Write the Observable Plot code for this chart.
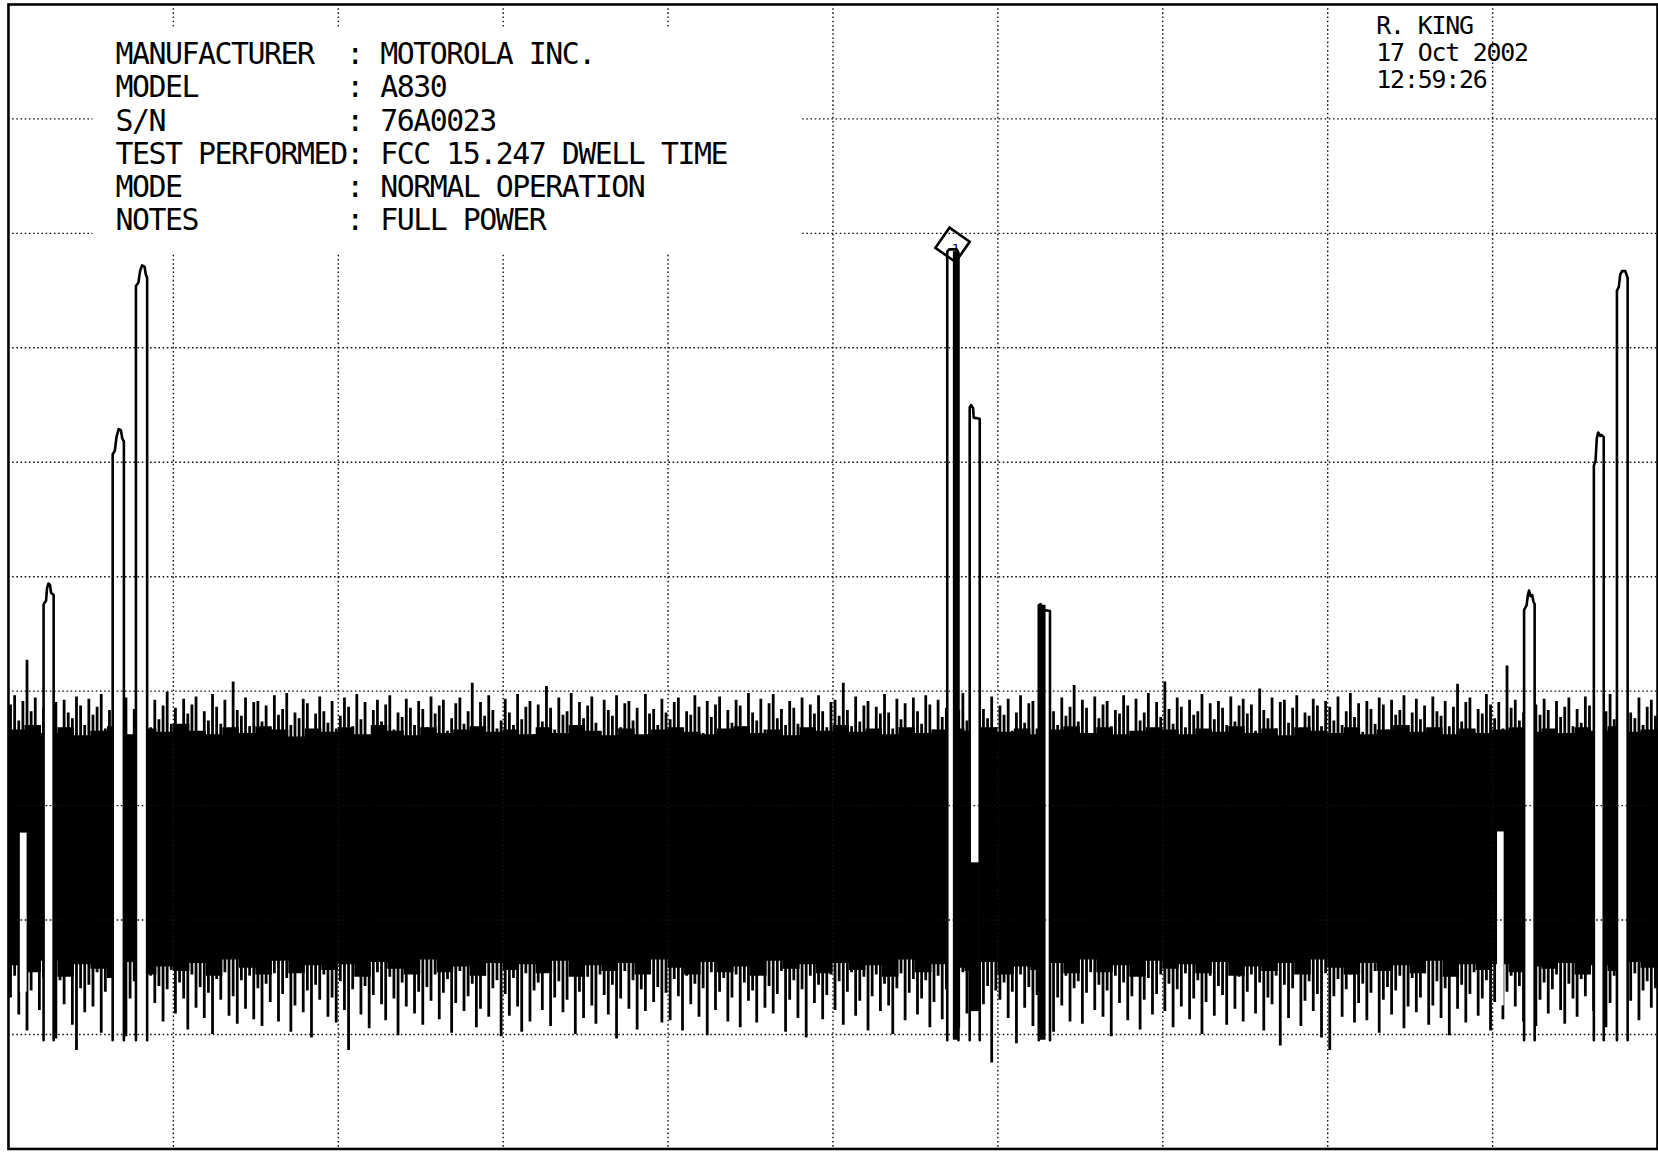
<!DOCTYPE html>
<html><head><meta charset="utf-8">
<script src="https://cdn.jsdelivr.net/npm/d3@7"></script>
<script src="https://cdn.jsdelivr.net/npm/@observablehq/plot@0.6"></script>
<style>
html,body{margin:0;padding:0;background:#fff;overflow:hidden}
#wrap{width:1658px;height:1158px;overflow:hidden;position:relative;background:#fff}
</style></head><body><div id="wrap"></div>
<script>
// ---------- DATA (time in ms, level in dBm, ref +20 dBm, 10 dB/div) ----------
const timeTicks = [10, 20, 30, 40, 50, 60, 70, 80, 90];
const levelTicks = [10, 0, -10, -20, -30, -40, -50, -60, -70];

const noiseStep = 0.25; // ms per noise bin (peak excursions)
const noiseHi = [
 -41.2,-40.4,-42.6,-40.9,-37.3,-41.8,-40.6,-43.1,-41.5,-40.2,-42.3,-41.0,-43.6,-40.8,-41.9,-42.4,-40.5,-41.3,-43.0,-40.7,
 -42.1,-41.4,-40.3,-43.3,-41.7,-40.9,-42.8,-41.1,-40.6,-43.9,-41.6,-42.2,-40.4,-41.9,-43.2,-40.8,-42.5,-41.3,-40.1,-42.9,
 -41.5,-43.4,-40.7,-42.0,-41.2,-40.5,-43.7,-41.8,-42.6,-40.3,-41.4,-42.9,-40.8,-43.5,-39.2,-41.7,-42.2,-40.6,-43.1,-41.0,
 -40.9,-42.7,-41.3,-43.8,-40.4,-42.1,-41.6,-40.2,-43.0,-41.9,-42.4,-40.7,-41.1,-43.6,-42.0,-40.5,-41.8,-42.8,-40.9,-43.3,
 -42.2,-40.6,-41.4,-43.1,-40.3,-42.5,-41.0,-43.9,-41.7,-40.8,-42.7,-41.2,-40.4,-43.4,-41.9,-42.3,-40.7,-41.5,-43.0,-40.9,
 -41.6,-43.2,-40.5,-42.0,-41.3,-40.8,-43.5,-42.4,-41.1,-40.6,-42.9,-41.8,-39.3,-43.7,-41.0,-42.2,-40.4,-41.7,-43.3,-42.6,
 -40.7,-41.9,-43.0,-40.3,-42.5,-41.4,-40.9,-43.8,-41.2,-42.7,-39.6,-41.5,-43.4,-40.6,-42.1,-41.8,-40.2,-43.1,-41.0,-42.4,
 -41.3,-40.5,-42.8,-43.6,-40.8,-41.7,-42.2,-40.4,-43.2,-41.1,-40.9,-42.6,-41.5,-43.9,-40.3,-42.0,-41.6,-43.0,-40.7,-41.9,
 -42.5,-41.0,-40.6,-43.3,-41.8,-42.1,-40.4,-41.4,-43.7,-40.9,-42.3,-41.2,-40.5,-43.5,-41.7,-42.8,-40.8,-41.3,-43.1,-40.2,
 -41.9,-42.6,-40.7,-43.4,-41.1,-40.3,-42.4,-41.6,-43.0,-40.9,-41.5,-42.9,-40.6,-43.8,-41.2,-42.0,-40.4,-41.8,-43.2,-41.0,
 -40.8,-42.2,-39.3,-41.7,-43.1,-40.5,-42.7,-41.3,-40.9,-43.6,-41.4,-42.0,-40.3,-41.9,-43.3,-40.7,-42.5,-41.1,-43.9,-40.6,
 -41.8,-42.9,-40.4,-41.2,-43.4,-40.8,-42.3,-41.5,-40.6,-43.0,-41.7,-40.2,-42.6,-41.0,-43.7,-40.9,-41.6,-42.4,-40.5,-43.2,
 -41.3,-42.1,-40.7,-43.5,-41.9,-40.4,-42.8,-41.1,-40.9,-43.3,-41.6,-42.5,-40.3,-41.8,-43.0,-40.6,-42.2,-41.4,-39.5,-42.7,
 -40.8,-41.5,-43.8,-40.5,-42.4,-41.2,-40.9,-43.1,-41.7,-42.0,-40.4,-41.3,-43.6,-40.7,-42.6,-41.9,-40.2,-43.4,-41.0,-42.3,
 -39.2,-41.6,-42.9,-40.6,-41.4,-43.2,-40.8,-42.1,-41.8,-40.3,-43.7,-41.1,-42.5,-40.9,-41.5,-43.0,-40.5,-42.7,-41.3,-40.7,
 -42.0,-41.2,-43.5,-39.8,-41.7,-42.4,-40.6,-43.3,-41.0,-40.8,-42.8,-41.5,-40.4,-43.9,-41.9,-42.2,-40.7,-41.3,-43.1,-40.9,
 -41.4,-42.6,-40.5,-43.0,-41.8,-40.2,-42.3,-41.1,-43.6,-40.9,-41.6,-42.9,-40.6,-41.2,-43.4,-40.8,-42.1,-41.7,-40.4,-43.2,
 -41.9,-40.7,-42.5,-41.3,-43.7,-40.5,-41.8,-42.2,-40.9,-43.1,-41.4,-39.4,-42.7,-41.0,-40.6,-43.5,-41.6,-42.0,-40.3,-41.2,
 -42.4,-41.0,-43.3,-37.8,-41.5,-40.8,-42.6,-41.9,-40.4,-43.0,-41.2,-42.1,-40.7,-41.7,-43.4,-40.9,-42.3,-41.4,-40.6,-43.1,
 -41.6,-42.8,-40.5,-41.3,-43.6,-40.9,-42.0,-41.8,-40.3,-42.5,-41.1,-43.2,-40.7,-41.9,-42.4,-40.6,-43.0,-41.4,-40.8,-42.2
];
const noiseLo = [
 -66.8,-64.9,-68.3,-65.6,-69.7,-66.2,-64.5,-67.9,-65.1,-68.8,-66.5,-70.4,-65.3,-67.4,-64.8,-69.2,-71.4,-66.0,-68.1,-65.7,
 -67.6,-64.6,-69.9,-66.3,-65.0,-68.5,-67.1,-64.7,-70.2,-66.9,-65.4,-68.0,-66.6,-69.4,-64.9,-67.3,-65.8,-68.9,-66.1,-64.4,
 -68.2,-65.5,-66.9,-69.6,-64.8,-67.7,-65.9,-68.6,-66.4,-70.0,-65.2,-67.0,-64.6,-68.4,-66.7,-69.1,-65.3,-67.8,-64.9,-68.7,
 -66.0,-69.3,-65.6,-67.2,-64.7,-68.9,-66.5,-65.1,-69.8,-67.5,-64.5,-68.1,-66.2,-70.3,-65.7,-67.0,-64.8,-68.5,-66.8,-69.0,
 -65.4,-67.9,-71.4,-66.1,-64.9,-68.3,-65.8,-69.5,-66.6,-64.6,-67.4,-68.8,-65.0,-66.9,-70.1,-65.5,-67.6,-64.7,-68.2,-66.3,
 -69.2,-65.9,-67.1,-64.8,-68.7,-66.4,-65.2,-69.9,-67.3,-64.5,-68.0,-66.7,-65.6,-69.4,-67.8,-64.9,-68.5,-66.0,-65.3,-70.2,
 -66.5,-68.4,-65.1,-67.6,-69.8,-64.7,-68.9,-66.2,-65.5,-67.9,-64.6,-69.3,-66.8,-65.4,-68.1,-67.0,-64.9,-70.0,-66.3,-68.6,
 -65.0,-67.5,-69.1,-64.8,-66.6,-68.3,-65.7,-70.4,-66.9,-64.5,-67.8,-65.3,-69.6,-66.1,-68.0,-64.7,-67.2,-65.9,-69.0,-66.4,
 -68.8,-65.2,-66.7,-69.7,-64.9,-67.4,-65.6,-68.5,-66.0,-70.1,-64.6,-67.9,-66.3,-65.1,-68.9,-66.8,-64.8,-69.4,-65.5,-67.1,
 -66.2,-69.0,-64.7,-67.7,-65.8,-68.2,-66.5,-64.5,-69.8,-67.0,-65.3,-68.6,-66.1,-70.3,-64.9,-67.3,-65.7,-68.7,-66.6,-64.8,
 -67.9,-65.4,-69.2,-66.3,-64.6,-68.4,-67.1,-65.0,-69.7,-66.7,-64.8,-68.0,-65.6,-67.5,-70.0,-66.0,-64.7,-68.8,-66.4,-65.2,
 -68.3,-66.9,-65.3,-69.4,-67.2,-64.9,-68.7,-66.1,-65.7,-67.8,-69.5,-64.6,-68.2,-66.5,-65.0,-70.1,-67.4,-65.8,-72.5,-66.2,
 -67.0,-65.5,-68.6,-66.3,-70.8,-64.8,-67.7,-65.9,-69.3,-66.6,-64.7,-68.1,-65.2,-69.8,-66.8,-67.5,-64.9,-68.9,-66.0,-65.4,
 -69.1,-66.4,-64.6,-67.9,-65.7,-68.5,-66.2,-70.2,-64.9,-67.3,-65.5,-68.8,-66.7,-64.5,-69.6,-67.0,-65.1,-68.3,-66.5,-64.8,
 -68.0,-65.6,-69.4,-66.1,-67.6,-64.7,-68.7,-66.9,-65.3,-70.0,-67.2,-64.9,-68.4,-65.8,-66.6,-69.2,-64.6,-67.8,-65.0,-68.9,
 -66.3,-64.8,-68.2,-65.5,-69.7,-66.8,-67.4,-64.9,-71.0,-65.7,-68.6,-66.0,-64.6,-69.3,-67.1,-65.4,-68.0,-66.5,-70.3,-64.7,
 -71.4,-66.7,-65.2,-68.5,-66.1,-64.8,-69.0,-67.3,-65.6,-68.8,-66.4,-64.5,-69.9,-67.0,-65.9,-68.3,-66.2,-64.9,-69.5,-67.6,
 -65.1,-68.1,-66.8,-64.7,-69.2,-67.5,-65.4,-68.6,-66.0,-70.1,-64.8,-67.8,-65.7,-69.0,-66.5,-64.6,-68.4,-66.9,-65.3,-69.7,
 -67.2,-65.0,-68.7,-66.3,-64.9,-67.6,-65.8,-68.9,-66.6,-64.7,-69.3,-67.0,-65.5,-68.2,-66.1,-64.8,-67.9,-69.1,-65.6,-66.9,
 -68.5,-65.2,-66.7,-64.6,-68.0,-66.4,-65.1,-69.4,-67.3,-64.9,-66.8,-68.3,-65.7,-67.1,-64.7,-68.8,-66.2,-65.4,-67.7,-66.0
];
const coreStep = 1; // ms per dense-band bin
const coreTop = [
 -43.4,-43.0,-43.7,-43.2,-43.9,-43.5,-43.1,-43.8,-43.3,-43.6,
 -42.9,-43.5,-43.8,-43.2,-43.7,-43.1,-43.4,-44.0,-43.3,-43.6,
 -43.2,-43.8,-43.0,-43.5,-43.9,-43.2,-43.7,-43.4,-43.1,-43.6,
 -43.4,-43.8,-43.2,-43.7,-43.0,-43.5,-43.9,-43.3,-43.8,-43.4,
 -43.2,-43.6,-43.8,-43.3,-43.1,-43.7,-43.4,-43.9,-43.2,-43.5,
 -43.0,-43.6,-43.3,-43.8,-43.2,-43.7,-43.4,-43.3,-43.5,-43.2,
 -43.6,-43.3,-43.8,-43.4,-43.1,-43.7,-43.2,-43.8,-43.5,-43.2,
 -43.4,-43.8,-43.3,-43.6,-43.1,-43.7,-43.3,-43.9,-43.2,-43.5,
 -43.7,-43.2,-43.8,-43.4,-43.0,-43.6,-43.2,-43.8,-43.3,-43.7,
 -43.4,-43.2,-43.6,-43.3,-43.7,-43.2,-43.5,-43.1,-43.6,-43.4
];
const coreBottom = [
 -64.0,-64.6,-63.6,-65.0,-63.9,-64.3,-65.1,-63.7,-64.8,-64.1,
 -64.5,-63.8,-64.9,-63.5,-64.2,-64.8,-63.6,-64.7,-64.0,-64.4,
 -63.9,-65.0,-63.7,-64.3,-64.8,-63.5,-64.6,-64.1,-64.9,-63.8,
 -64.4,-63.9,-64.7,-63.6,-65.0,-64.0,-64.5,-63.8,-64.8,-63.5,
 -64.2,-64.8,-63.7,-64.6,-64.1,-64.9,-63.6,-64.3,-63.9,-64.7,
 -63.8,-64.4,-64.0,-65.0,-63.5,-64.6,-63.9,-64.2,-64.5,-63.7,
 -64.8,-64.1,-64.4,-63.8,-64.7,-63.5,-64.6,-64.0,-65.0,-63.6,
 -64.3,-63.9,-64.7,-63.7,-64.9,-64.1,-64.5,-63.8,-64.8,-63.5,
 -64.2,-64.8,-63.8,-64.5,-64.0,-64.7,-63.6,-65.0,-63.9,-64.4,
 -63.9,-64.6,-64.1,-64.3,-63.8,-64.8,-64.0,-64.5,-63.7,-64.2
];

// hop pulses: [time ms, level dBm] outline vertices
const pulseBase = -70.5;
const pulseA = [[2.13,-70.5],[2.13,-32.4],[2.28,-32.1],[2.34,-31.0],[2.42,-30.6],[2.52,-30.7],[2.58,-31.4],[2.74,-31.6],[2.74,-70.5]];
const pulseB = [[6.32,-70.5],[6.32,-19.3],[6.45,-19.0],[6.55,-17.8],[6.68,-17.1],[6.82,-17.2],[6.90,-17.9],[7.00,-18.2],[7.00,-70.5]];
const pulseC = [[7.73,-70.5],[7.73,-4.6],[7.88,-4.3],[7.98,-3.3],[8.10,-2.8],[8.25,-2.9],[8.33,-3.6],[8.41,-3.9],[8.41,-70.5]];
const pulseD = [[56.93,-70.5],[56.93,-1.6],[57.05,-1.4],[57.50,-1.4],[57.61,-1.7],[57.61,-70.5]];
const pulseE = [[58.29,-70.5],[58.29,-15.2],[58.38,-15.0],[58.50,-15.3],[58.53,-16.1],[58.90,-16.2],[58.90,-70.5]];
const pulseF = [[62.48,-70.5],[62.48,-32.5],[62.58,-32.4],[62.70,-32.6],[62.76,-32.9],[63.16,-33.0],[63.16,-70.5]];
const pulseG = [[91.91,-70.5],[91.91,-32.9],[92.06,-32.5],[92.14,-31.6],[92.21,-31.2],[92.30,-31.7],[92.40,-31.6],[92.48,-32.2],[92.55,-32.4],[92.55,-70.5]];
const pulseH = [[96.14,-70.5],[96.14,-20.3],[96.24,-19.9],[96.32,-17.9],[96.40,-17.4],[96.52,-17.7],[96.60,-17.6],[96.74,-17.8],[96.74,-70.5]];
const pulseI = [[97.54,-70.5],[97.54,-5.0],[97.65,-4.7],[97.74,-3.6],[97.85,-3.3],[98.05,-3.3],[98.12,-3.6],[98.19,-3.9],[98.19,-70.5]];

// dense (over-written) trace segments inside pulses
const denseStart = [57.30, 62.48, 58.31];
const denseEnd   = [57.61, 62.92, 58.88];
const denseHi    = [-1.6, -32.5, -55.0];
const denseLo    = [-70.5, -70.5, -68.0];
// short white gaps in the noise
const gapStart = [0.72, 90.30];
const gapEnd   = [1.13, 90.70];
const gapHi    = [-52.4, -52.3];
const gapLo    = [-66.3, -67.5];

// marker 1
const markerT = 57.25, markerDb = -1.0;

// annotation text
const headerLabels = ["MANUFACTURER", "MODEL", "S/N", "TEST PERFORMED", "MODE", "NOTES"];
const headerValues = ["MOTOROLA INC.", "A830", "76A0023", "FCC 15.247 DWELL TIME", "NORMAL OPERATION", "FULL POWER"];
const stampLines = ["R. KING", "17 Oct 2002", "12:59:26"];

// ---------- TABLES ----------
const peaks = noiseHi.map((v, i) => ({t: i * noiseStep + noiseStep / 2, hi: v, lo: noiseLo[i]}));
const core = coreTop.map((v, i) => ({t: i * coreStep, hi: v, lo: coreBottom[i]}));
core.push({t: coreTop.length * coreStep, hi: coreTop[coreTop.length - 1], lo: coreBottom[coreBottom.length - 1]});
const pulseList = {A: pulseA, B: pulseB, C: pulseC, D: pulseD, E: pulseE, F: pulseF, G: pulseG, H: pulseH, I: pulseI};
const pulseRows = Object.entries(pulseList).flatMap(([name, pts]) => pts.map(([t, db]) => ({name, t, db})));
const dense = denseStart.map((s, i) => ({x1: s, x2: denseEnd[i], y1: denseLo[i], y2: denseHi[i]}));
const gaps = gapStart.map((s, i) => ({x1: s, x2: gapEnd[i], y1: gapLo[i], y2: gapHi[i]}));

const dotted = {stroke: "#111", strokeOpacity: 1, strokeWidth: 1.4, strokeDasharray: "1.6,2.6"};

const chart = Plot.plot({
  width: 1666, height: 1158,
  marginLeft: 8, marginRight: 1, marginTop: 4, marginBottom: 4,
  x: {domain: [0, 100], axis: null},
  y: {domain: [-80, 20], axis: null},
  style: {background: "#fff"},
  marks: [
    Plot.areaY(core, {x: "t", y1: "lo", y2: "hi", curve: "step-after", fill: "#000"}),
    Plot.ruleX(peaks, {x: "t", y1: "lo", y2: "hi", stroke: "#000", strokeWidth: 2.8}),
    Plot.rect(gaps, {x1: "x1", x2: "x2", y1: "y1", y2: "y2", fill: "#fff"}),
    Plot.areaY(pulseRows, {x: "t", y1: pulseBase, y2: "db", z: "name", fill: "#fff"}),
    Plot.gridX(timeTicks, dotted),
    Plot.gridY(levelTicks, dotted),
    Plot.rect(dense, {x1: "x1", x2: "x2", y1: "y1", y2: "y2", fill: "#000"}),
    Plot.line(pulseRows, {x: "t", y: "db", z: "name", stroke: "#000", strokeWidth: 2.6, strokeLinejoin: "round"}),
    Plot.dot([{t: markerT, db: markerDb}], {x: "t", y: "db", symbol: "square", r: 14, rotate: 35, stroke: "#000", strokeWidth: 2.6, fill: "none"}),
    Plot.text([{t: markerT, db: markerDb}], {x: "t", y: "db", text: () => "1", dx: 3, dy: 4, fontSize: 13, fill: "#000", fontFamily: "DejaVu Sans Mono"}),
    Plot.frame({stroke: "#000", strokeWidth: 2.6})
  ]
});
document.getElementById("wrap").appendChild(chart);

// header block (white panel over the graticule, as on the plotter output)
const svg = d3.select(chart);
const g = svg.append("g")
  .attr("font-family", "'DejaVu Sans Mono', monospace")
  .attr("text-anchor", "start")
  .attr("fill", "#000");
g.append("rect").attr("x", 93).attr("y", 27).attr("width", 713).attr("height", 228).attr("fill", "#fff");
headerLabels.forEach((lab, i) => {
  const y = 64.5 + i * 33.4;
  g.append("text").attr("x", 116).attr("y", y).attr("font-size", 30).attr("text-anchor", "start").attr("letter-spacing", "-1.46px").text(lab);
  g.append("text").attr("x", 357).attr("y", y).attr("font-size", 30).attr("text-anchor", "middle").text(":");
  g.append("text").attr("x", 382).attr("y", y).attr("font-size", 30).attr("text-anchor", "start").attr("letter-spacing", "-1.46px").text(headerValues[i]);
});
stampLines.forEach((s, i) => {
  g.append("text").attr("x", 1383).attr("y", 33.8 + i * 27.5).attr("font-size", 25).attr("text-anchor", "start").attr("letter-spacing", "-1.2px").text(s);
});
</script></body></html>
